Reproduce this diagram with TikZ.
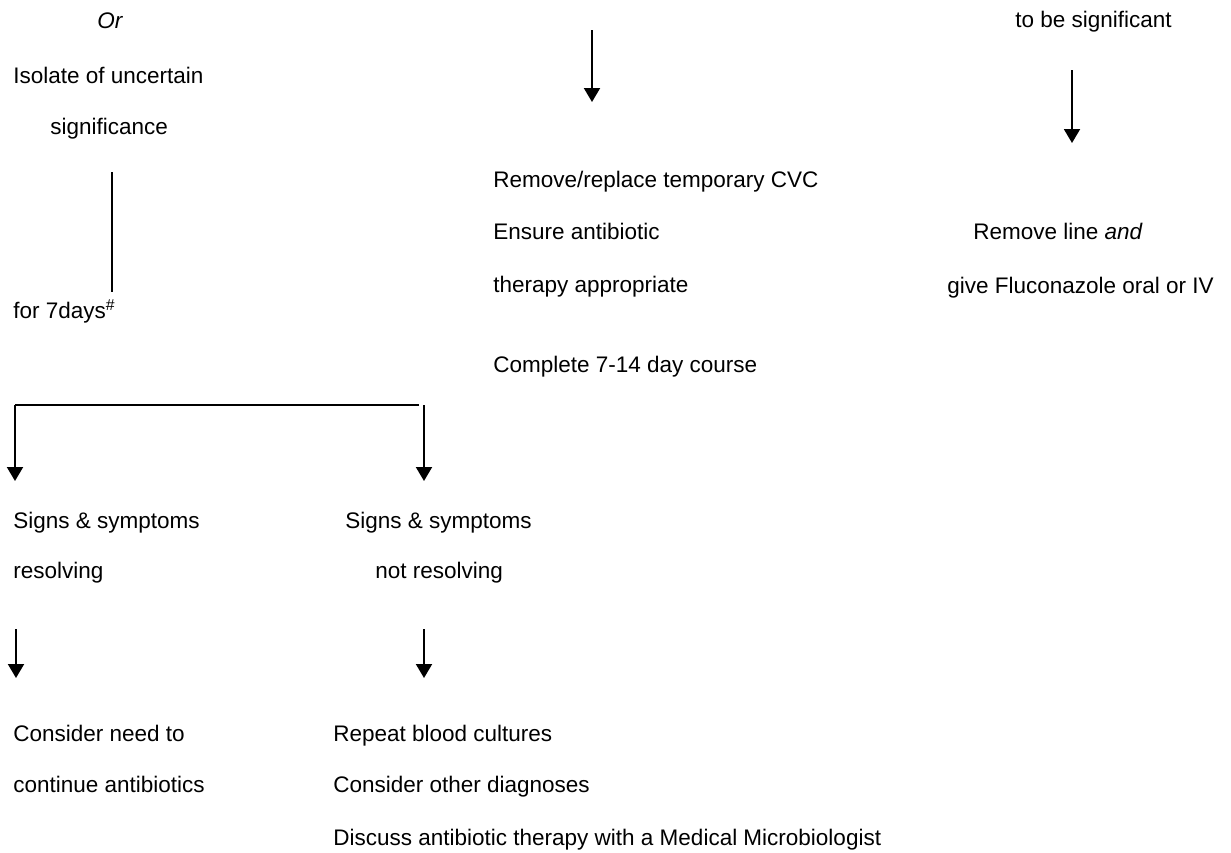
\documentclass[tikz,border=0pt]{standalone}
\usepackage{fontspec}
\setmainfont{Liberation Sans}
\usetikzlibrary{arrows.meta}

\tikzset{
  txt/.style={anchor=base west, inner sep=0pt, font=\fontsize{11.25pt}{13pt}\selectfont},
  arr/.style={line width=1pt, -{Triangle[width=8pt,length=7pt]}},
  ln/.style={line width=1pt}
}

\begin{document}
\begin{tikzpicture}[x=0.5pt,y=-0.5pt]

      \useasboundingbox (0,0) rectangle (1231,852);

      % Left column
      \node[txt] (or)      at (97,28)   {\textit{Or}};
      \node[txt] (isolate) at (13,83)   {Isolate of uncertain};
      \node[txt] (signif)  at (50,134)  {significance};
      \node[txt] (days)    at (13,318)  {for 7days\textsuperscript{\#}};

      % Middle column
      \node[txt] (remove)   at (493,187) {Remove/replace temporary CVC};
      \node[txt] (ensure)   at (493,239) {Ensure antibiotic};
      \node[txt] (therapy)  at (493,292) {therapy appropriate};
      \node[txt] (complete) at (493,372) {Complete 7-14 day course};

      % Right column
      \node[txt] (tobe)   at (1015,27)  {to be significant};
      \node[txt] (rmline) at (973,239)  {Remove line \textit{and}};
      \node[txt] (flucon) at (947,293)  {give Fluconazole oral or IV};

      % Branches
      \node[txt] (signs-res)  at (13,528)  {Signs \& symptoms};
      \node[txt] (res)        at (13,578)  {resolving};
      \node[txt] (signs-nres) at (345,528) {Signs \& symptoms};
      \node[txt] (nres)       at (375,578) {not resolving};

      \node[txt] (need)     at (13,741)  {Consider need to};
      \node[txt] (contin)   at (13,792)  {continue antibiotics};
      \node[txt] (repeat)   at (333,741) {Repeat blood cultures};
      \node[txt] (other)    at (333,792) {Consider other diagnoses};
      \node[txt] (discuss)  at (333,845) {Discuss antibiotic therapy with a Medical Microbiologist};

      % Connector ends
      \coordinate (mid-top)   at (592,30);
      \coordinate (mid-bot)   at (592,102);
      \coordinate (rt-top)    at (1072,70);
      \coordinate (rt-bot)    at (1072,143);
      \coordinate (lf-top)    at (112,172);
      \coordinate (lf-bot)    at (112,292);
      \coordinate (br-left)   at (15,405);
      \coordinate (br-right)  at (419,405);
      \coordinate (br-r-top)  at (424,405);
      \coordinate (br-l-end)  at (15,481);
      \coordinate (br-r-end)  at (424,481);
      \coordinate (res-top)   at (16,629);
      \coordinate (res-bot)   at (16,678);
      \coordinate (nres-top)  at (424,629);
      \coordinate (nres-bot)  at (424,678);

      % Connect
      \draw[arr] (mid-top) -- (mid-bot);
      \draw[arr] (rt-top) -- (rt-bot);
      \draw[ln]  (lf-top) -- (lf-bot);
      \draw[ln]  (br-right) -- (br-left);
      \draw[arr] (br-left) -- (br-l-end);
      \draw[arr] (br-r-top) -- (br-r-end);
      \draw[arr] (res-top) -- (res-bot);
      \draw[arr] (nres-top) -- (nres-bot);

\end{tikzpicture}
\end{document}
